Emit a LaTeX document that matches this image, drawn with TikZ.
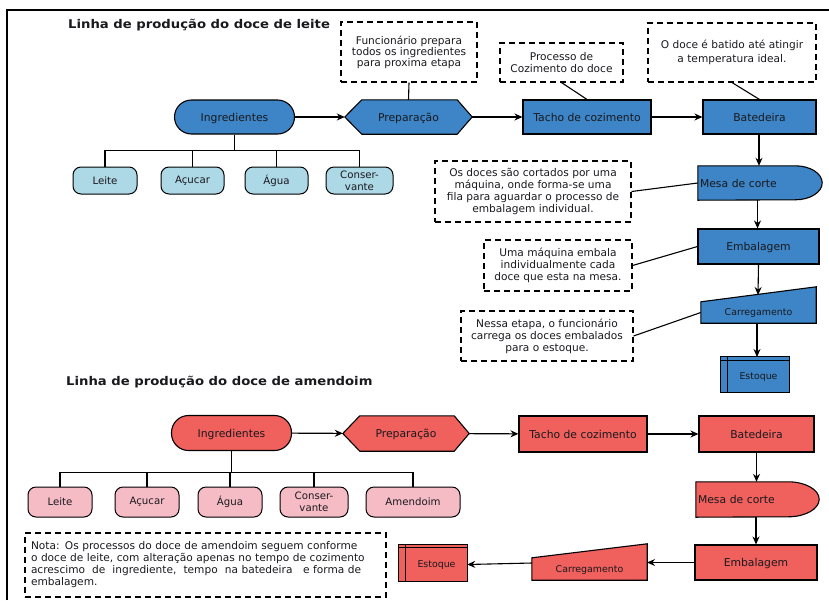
\documentclass[tikz,border=0pt]{standalone}
\usepackage{fontspec}
\setmainfont{DejaVu Sans}
\newfontfamily\titlefont{DejaVu Sans Bold}[FakeStretch=1.1]
\usetikzlibrary{arrows.meta,backgrounds,calc}
\definecolor{blueA}{RGB}{61,133,198}
\definecolor{blueL}{RGB}{173,216,230}
\definecolor{redA}{RGB}{240,96,92}
\definecolor{pinkL}{RGB}{246,188,198}
\definecolor{txt}{RGB}{25,25,30}
\begin{document}
\begin{tikzpicture}[x=1pt,y=-1pt,
  every node/.style={font=\fontsize{10.8}{12}\selectfont, text=txt, inner sep=0pt},
  proc/.style={draw=black, line width=1.1pt, minimum height=34pt, text depth=0pt},
  stad/.style={proc, rounded corners=17pt},
  leaf/.style={draw=black, line width=1pt, rounded corners=8pt, minimum height=27pt, align=center, font=\fontsize{10.2}{12}\selectfont},
  callout/.style={draw=black, dash pattern=on 6pt off 4pt, line width=1.1pt, align=center, font=\fontsize{10.6}{12}\selectfont},
  shp/.style={draw=black, line width=1.1pt},
  ghost/.style={minimum height=34pt, text depth=0pt},
  small/.style={font=\fontsize{9.4}{10}\selectfont, text depth=0pt},
  arr/.style={-{Stealth[length=8pt,width=7pt]}, line width=1.1pt},
  lnk/.style={line width=1.1pt},
  ttl/.style={font=\titlefont\fontsize{12}{14}\selectfont, anchor=west}]
\useasboundingbox (0,0) rectangle (829,600);
\begin{scope}[on background layer]
\fill[white] (0,0) rectangle (829,600);
\end{scope}
\draw[line width=2pt] (7,600) -- (7,10) -- (829,10);

% ---------- top line ----------
\node[ttl] (t1) at (68,25) {Linha de produção do doce de leite};

\node[stad, fill=blueA, minimum width=120pt] (ing1) at (234.5,117) {Ingredientes};
\node[ghost, minimum width=127pt] (prep1) at (408.5,117) {Preparação};
\node[proc, fill=blueA, minimum width=128pt] (tacho1) at (587,117) {Tacho de cozimento};
\node[proc, fill=blueA, minimum width=113pt] (bat1) at (759.5,117) {Batedeira};
\node[minimum height=34pt, text width=120pt, inner xsep=2pt, align=left, text depth=0pt] (mesa1) at (760,183) {Mesa de corte};
\node[proc, fill=blueA, minimum width=121pt, minimum height=35pt] (emb1) at (758.5,246.5) {Embalagem};
\node[small, minimum width=115pt, minimum height=21pt] (carr1) at (758.5,312.5) {Carregamento};
\node[small, minimum width=61pt, minimum height=31pt] (est1) at (758.5,376.5) {Estoque};
\coordinate (carrtop1) at (758,295);
\coordinate (esttop1) at (757,357);

\node[leaf, fill=blueL, minimum width=64pt] (lei1) at (105,180.5) {Leite};
\node[leaf, fill=blueL, minimum width=63pt] (acu1) at (192.5,180.5) {Açucar};
\node[leaf, fill=blueL, minimum width=63pt] (agu1) at (276.5,180.5) {Água};
\node[leaf, fill=blueL, minimum width=67pt] (con1) at (359.5,180.5) {Conser-\\vante};

\node[callout, minimum width=136pt, minimum height=60pt, font=\fontsize{10.6}{11}\selectfont] (c1) at (409,52) {Funcionário prepara\\todos os ingredientes\\para proxima etapa};
\node[callout, minimum width=123pt, minimum height=39pt] (c2) at (561.5,62.5) {Processo de\\Cozimento do doce};
\node[callout, minimum width=168pt, minimum height=59pt, font=\fontsize{10.6}{13.5}\selectfont] (c3) at (732,52.5) {O doce é batido até atingir\\a temperatura ideal.};
\node[callout, minimum width=196pt, minimum height=61pt] (c4) at (533,191.5) {Os doces são cortados por uma\\máquina, onde forma-se uma\\fila para aguardar o processo de\\embalagem individual.};
\node[callout, minimum width=148pt, minimum height=51pt] (c5) at (558,265.5) {Uma máquina embala\\individualmente cada\\doce que esta na mesa.};
\node[callout, minimum width=172pt, minimum height=50pt] (c6) at (547,336) {Nessa etapa, o funcionário\\carrega os doces embalados\\para o estoque.};

% ---------- bottom line ----------
\node[ttl] (t2) at (66,382) {Linha de produção do doce de amendoim};

\node[stad, fill=redA, minimum width=120pt, minimum height=35pt] (ing2) at (231.5,433) {Ingredientes};
\node[ghost, minimum width=126pt, minimum height=35pt] (prep2) at (406,433.5) {Preparação};
\node[proc, fill=redA, minimum width=128pt, minimum height=36pt] (tacho2) at (583,434) {Tacho de cozimento};
\node[proc, fill=redA, minimum width=115pt, minimum height=36pt] (bat2) at (756.5,434) {Batedeira};
\node[minimum height=35pt, text width=119pt, inner xsep=2pt, align=left, text depth=0pt] (mesa2) at (757.5,499.5) {Mesa de corte};
\node[proc, fill=redA, minimum width=122pt, minimum height=35pt] (emb2) at (756,562.5) {Embalagem};
\node[small, minimum width=115pt, minimum height=22pt] (carr2) at (589.5,569) {Carregamento};
\node[small, minimum width=61pt, minimum height=33pt] (est2) at (436.5,564.5) {Estoque};
\coordinate (carrr2) at (647,562.5);
\coordinate (carrl2) at (532,563);

\node[leaf, fill=pinkL, minimum width=64pt, minimum height=30pt] (lei2) at (60,502) {Leite};
\node[leaf, fill=pinkL, minimum width=64pt, minimum height=30pt] (acu2) at (147,502) {Açucar};
\node[leaf, fill=pinkL, minimum width=64pt, minimum height=30pt] (agu2) at (230,502) {Água};
\node[leaf, fill=pinkL, minimum width=68pt, minimum height=30pt] (con2) at (314,502) {Conser-\\vante};
\node[leaf, fill=pinkL, minimum width=94pt, minimum height=30pt] (ame2) at (413,502) {Amendoim};

\node[callout, align=left, text width=349pt, inner xsep=6pt, minimum height=64pt, font=\fontsize{10.6}{12}\selectfont] (nota) at (205.5,565) {Nota: Os processos do doce de amendoim seguem conforme\\o doce de leite, com alteração apenas no tempo de cozimento\\acrescimo\ \ de\ \ ingrediente,\ \ tempo\ \ na batedeira\ \ \ e forma de\\embalagem.};

% ---------- custom shapes ----------
\begin{scope}[on background layer]
\foreach \p/\c in {prep1/blueA, prep2/redA}{
  \filldraw[shp, fill=\c] (\p.west) -- ([xshift=17pt]\p.north west) -- ([xshift=-15pt]\p.north east) -- (\p.east) -- ([xshift=-15pt]\p.south east) -- ([xshift=17pt]\p.south west) -- cycle;
}
\filldraw[shp, fill=blueA] (mesa1.north west) -- ([xshift=-27pt]mesa1.north east) arc[start angle=90, end angle=-90, x radius=27pt, y radius=17pt] -- (mesa1.south west) -- cycle;
\filldraw[shp, fill=redA] (mesa2.north west) -- ([xshift=-31pt]mesa2.north east) arc[start angle=90, end angle=-90, x radius=31pt, y radius=17.5pt] -- (mesa2.south west) -- cycle;
\filldraw[shp, fill=blueA] (carr1.north west) -- ([yshift=15pt]carr1.north east) -- (carr1.south east) -- (carr1.south west) -- cycle;
\filldraw[shp, fill=redA] (carr2.north west) -- ([yshift=14pt]carr2.north east) -- (carr2.south east) -- (carr2.south west) -- cycle;
\filldraw[shp, fill=blueA] ([xshift=-7pt,yshift=4pt]est1.north west) rectangle (est1.south east);
\draw[shp] ([xshift=-7pt]est1.north west) -- (est1.north east);
\draw[shp] ([yshift=4pt]est1.north west) -- (est1.south west);
\filldraw[shp, fill=redA] ([xshift=-7pt,yshift=3pt]est2.north west) rectangle (est2.south east);
\draw[shp] ([xshift=-7pt]est2.north west) -- (est2.north east);
\draw[shp] ([yshift=3pt]est2.north west) -- (est2.south west);
\end{scope}

% ---------- connectors top ----------
\draw[arr] (ing1) -- (prep1);
\draw[arr] (prep1) -- (tacho1);
\draw[arr] (tacho1) -- (bat1);
\draw[arr] ([xshift=-0.5pt]bat1.south) -- ([xshift=-0.5pt]bat1.south |- mesa1.north);
\draw[arr] ([xshift=-1pt]emb1.north |- mesa1.south) -- ([xshift=-1pt]emb1.north);
\draw[arr] (emb1.south) -- (carrtop1);
\draw[arr] (esttop1 |- carr1.south) -- (esttop1);
\draw[lnk] (ing1.south) -- ++(0,16) coordinate (j1);
\foreach \n in {lei1,acu1,agu1,con1} \draw[lnk] (j1) -| (\n.north);
\draw[lnk] (c1.south) -- (prep1.north);
\draw[lnk] (c2.south) -- (tacho1.north);
\draw[lnk] (c3.south) -- (bat1.north);
\draw[lnk] (c4.east) -- (mesa1.west);
\draw[lnk] (c5.east) -- (emb1.west);
\draw[lnk] (c6.east) -- (carr1.west);

% ---------- connectors bottom ----------
\draw[arr] (ing2) -- (prep2);
\draw[arr] (prep2) -- (tacho2);
\draw[arr] (tacho2) -- (bat2);
\draw[arr] (bat2.south) -- (bat2.south |- mesa2.north);
\draw[arr] (emb2.north |- mesa2.south) -- (emb2.north);
\draw[arr] (emb2.west) -- (carrr2);
\draw[arr] (carrl2) -- (est2.east);
\draw[lnk] (ing2.south) -- ++(0,21.5) coordinate (j2);
\foreach \n in {lei2,acu2,agu2,con2,ame2} \draw[lnk] (j2) -| (\n.north);
\end{tikzpicture}
\end{document}
